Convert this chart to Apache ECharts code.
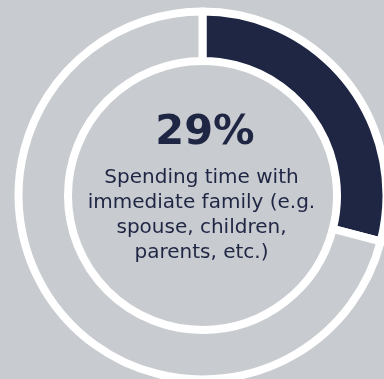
<!DOCTYPE html>
<html>
<head>
<meta charset="utf-8">
<script src="https://cdn.jsdelivr.net/npm/echarts@6/dist/echarts.min.js"></script>
<style>
html,body{margin:0;padding:0;background:#c8cbcf;}
#chart{width:384px;height:379px;}
</style>
</head>
<body>
<div id="chart"></div>
<script>
const categories = ['Spending time with immediate family', 'Other'];
const values = [29, 71];
const headline = '29%';
const caption = 'Spending time with\nimmediate family (e.g.\nspouse, children,\nparents, etc.)';

const bg = '#c8cbcf';
const navy = '#1f2644';

const chart = echarts.init(document.getElementById('chart'), null, {renderer: 'canvas'});
chart.setOption({
  backgroundColor: bg,
  animation: false,
  series: [{
    type: 'pie',
    center: [202.5, 195.5],
    radius: [134.5, 184],
    startAngle: 90,
    clockwise: true,
    silent: true,
    label: {show: false},
    labelLine: {show: false},
    itemStyle: {borderColor: '#ffffff', borderWidth: 8},
    data: categories.map((c, i) => ({
      name: c,
      value: values[i],
      itemStyle: {color: i === 0 ? navy : bg}
    }))
  }],
  graphic: [
    {
      type: 'text',
      x: 205, y: 133.5,
      style: {
        text: headline,
        fill: navy,
        font: 'bold 41.5px "DejaVu Sans", Verdana, sans-serif',
        align: 'center',
        verticalAlign: 'middle'
      }
    },
    {
      type: 'text',
      x: 201.5, y: 215,
      style: {
        text: caption,
        fill: navy,
        font: '20px "DejaVu Sans", Verdana, sans-serif',
        lineHeight: 25,
        align: 'center',
        verticalAlign: 'middle'
      }
    }
  ]
});
</script>
</body>
</html>
